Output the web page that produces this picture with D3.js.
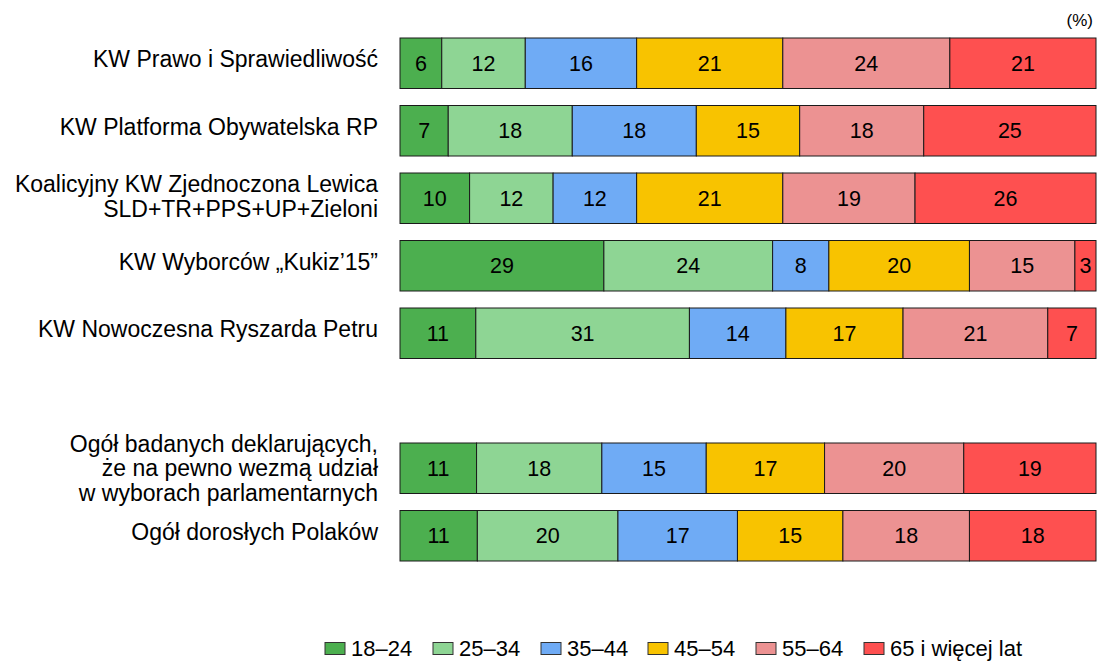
<!DOCTYPE html>
<html>
<head>
<meta charset="utf-8">
<script src="https://cdn.jsdelivr.net/npm/d3@7"></script>
<style>
  body { margin: 0; background: #fff; }
  text { font-family: "Liberation Sans", Arial, sans-serif; fill: #000; }
</style>
</head>
<body>
<div id="chart"></div>
<script>
// party / group labels (multi-line split by "\n"), "" = empty gap row
const groups = [
	"KW Prawo i Sprawiedliwość",
	"KW Platforma Obywatelska RP",
	"Koalicyjny KW Zjednoczona Lewica\nSLD+TR+PPS+UP+Zieloni",
	"KW Wyborców „Kukiz’15”",
	"KW Nowoczesna Ryszarda Petru",
	"",
	"Ogół badanych deklarujących,\nże na pewno wezmą udział\nw wyborach parlamentarnych",
	"Ogół dorosłych Polaków"
];

const ageGroups = ["18–24", "25–34", "35–44", "45–54", "55–64", "65 i więcej lat"];

const values = [
	[6, 12, 16, 21, 24, 21],
	[7, 18, 18, 15, 18, 25],
	[10, 12, 12, 21, 19, 26],
	[29, 24, 8, 20, 15, 3],
	[11, 31, 14, 17, 21, 7],
	null,
	[11, 18, 15, 17, 20, 19],
	[11, 20, 17, 15, 18, 18]
];

const colors = ["#4caf4f", "#8ed594", "#6fabf5", "#f8c300", "#ec9292", "#fe5050"];

let width = 1098;
let height = 661;
let margin = { top: 38, right: 2, bottom: 0, left: 400 };

let svg = d3.select("#chart")
	.append("svg")
	.attr("width", width)
	.attr("height", height);

let x = d3.scaleLinear()
	.domain([0, 1])
	.range([margin.left, width - margin.right]);

let y = d3.scaleBand()
	.domain(d3.range(groups.length))
	.range([margin.top - 8.5, margin.top - 8.5 + 67.5 * groups.length])
	.paddingInner(17 / 67.5)
	.paddingOuter(8.5 / 67.5);

let color = d3.scaleOrdinal().domain(ageGroups).range(colors);

// build stacked rows (normalised to each row's own sum)
let rows = [];
values.forEach((vals, i) => {
	if (!vals) return;
	let total = d3.sum(vals);
	let acc = 0;
	vals.forEach((v, j) => {
		rows.push({ row: i, key: ageGroups[j], value: v, x0: acc / total, x1: (acc + v) / total });
		acc += v;
	});
});

let seg = svg.append("g").selectAll("g")
	.data(rows)
	.enter()
	.append("g");

seg.append("rect")
	.attr("x", d => x(d.x0))
	.attr("y", d => y(d.row))
	.attr("width", d => x(d.x1) - x(d.x0))
	.attr("height", y.bandwidth())
	.attr("fill", d => color(d.key))
	.attr("stroke", "#1a1a1a")
	.attr("stroke-width", 1);

seg.append("text")
	.attr("x", d => (x(d.x0) + x(d.x1)) / 2)
	.attr("y", d => y(d.row) + y.bandwidth() / 2)
	.attr("dy", "0.36em")
	.attr("text-anchor", "middle")
	.style("font-size", "21.5px")
	.text(d => d.value);

// row labels
groups.forEach((g, i) => {
	if (!g) return;
	let lines = g.split("\n");
	let n = lines.length;
	let lh = 24.5;
	let base = y(i) + y.bandwidth() / 2 + 2 + 2 * n;
	let t = svg.append("text")
		.attr("text-anchor", "end")
		.style("font-size", "23px");
	lines.forEach((l, k) => {
		t.append("tspan")
			.attr("x", 378)
			.attr("y", base + (k - (n - 1) / 2) * lh)
			.text(l);
	});
});

svg.append("text")
	.attr("x", 1093)
	.attr("y", 26)
	.attr("text-anchor", "end")
	.style("font-size", "17px")
	.text("(%)");

// legend
let legendX = [325, 433, 541, 648, 756, 864];
let legend = svg.append("g").selectAll("g")
	.data(ageGroups)
	.enter()
	.append("g")
	.attr("transform", (d, i) => `translate(${legendX[i]},642.5)`);

legend.append("rect")
	.attr("width", 20)
	.attr("height", 12)
	.attr("fill", d => color(d))
	.attr("stroke", "#333")
	.attr("stroke-width", 1);

legend.append("text")
	.attr("x", 26)
	.attr("y", 6)
	.attr("dy", "0.36em")
	.style("font-size", "22px")
	.text(d => d);
</script>
</body>
</html>
